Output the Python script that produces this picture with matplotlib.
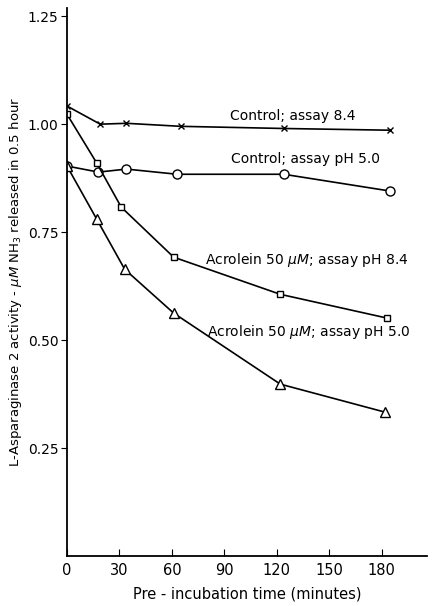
import matplotlib
matplotlib.use('Agg')
from matplotlib import pyplot as plt

# values
t_ctrl84 = [0, 19, 34, 65, 124, 185]
ctrl84 = [1.042, 1.00, 1.002, 0.995, 0.99, 0.986]

t_ctrl50 = [0, 18, 34, 63, 124, 185]
ctrl50 = [0.903, 0.889, 0.896, 0.884, 0.884, 0.845]

t_acr84 = [0, 17, 31, 61, 122, 183]
acr84 = [1.023, 0.91, 0.808, 0.692, 0.606, 0.551]

t_acr50 = [0, 17, 33, 61, 122, 182]
acr50 = [0.903, 0.78, 0.664, 0.5625, 0.398, 0.333]

xticks = [0, 30, 60, 90, 120, 150, 180]
yticks = [0.25, 0.50, 0.75, 1.00, 1.25]

plt.rcParams['font.family'] = ['DejaVu Sans']
plt.rcParams['mathtext.fontset'] = 'dejavusans'

fig = plt.figure(figsize=(4.35, 6.06), dpi=100)
ax = fig.add_axes([0.154, 0.0825, 0.828, 0.905])

lw = 1.2
ax.plot(t_ctrl84, ctrl84, color='k', lw=lw, marker='x', ms=5, mew=1.0)
ax.plot(t_ctrl50, ctrl50, color='k', lw=lw, marker='o', ms=6.5, mfc='white', mew=1.0)
ax.plot(t_acr84, acr84, color='k', lw=lw, marker='s', ms=4.5, mfc='white', mew=1.0)
ax.plot(t_acr50, acr50, color='k', lw=lw, marker='^', ms=6.5, mfc='white', mew=1.0)

fs = 10
ax.text(93, 1.02, 'Control; assay 8.4', fontsize=fs, va='center')
ax.text(94, 0.92, 'Control; assay pH 5.0', fontsize=fs, va='center')
ax.text(79, 0.685, r'Acrolein 50 $\mu M$; assay pH 8.4', fontsize=fs, va='center')
ax.text(80, 0.518, r'Acrolein 50 $\mu M$; assay pH 5.0', fontsize=fs, va='center')

ax.set_xlim(0, 206)
ax.set_ylim(0, 1.27)
ax.set_xticks(xticks)
ax.set_yticks(yticks)
ax.set_yticklabels(['0.25', '0.50', '0.75', '1.00', '1.25'])

ax.spines['top'].set_visible(False)
ax.spines['right'].set_visible(False)
ax.spines['left'].set_linewidth(1.3)
ax.spines['bottom'].set_linewidth(1.3)
ax.tick_params(axis='x', direction='in', length=5, labelsize=10.5, pad=5)
ax.tick_params(axis='y', direction='out', length=4, labelsize=10, pad=2)

ax.set_xlabel('Pre - incubation time (minutes)', fontsize=10.5, labelpad=6)
ax.set_ylabel(r'L-Asparaginase 2 activity - $\mu M$ NH$_3$ released in 0.5 hour',
              fontsize=9.5, labelpad=3)

fig.savefig('out.png', dpi=100)
